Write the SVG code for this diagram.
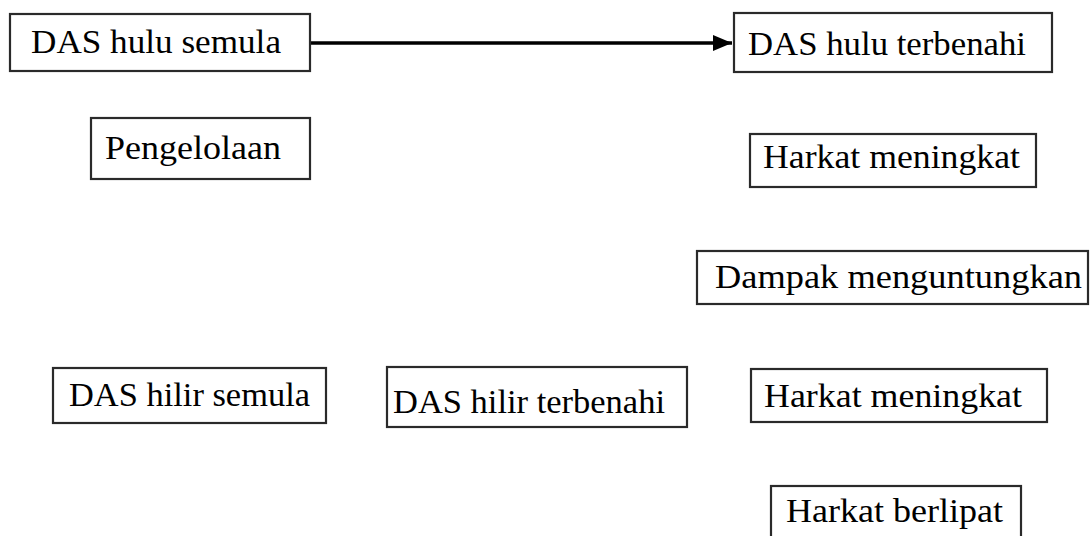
<svg xmlns="http://www.w3.org/2000/svg" width="1090" height="536" viewBox="0 0 1090 536">
<style>
.box{fill:#fff;stroke:#2a2a2a;stroke-width:2.2}
.lbl{font-family:"Palatino Linotype","Book Antiqua","Liberation Serif",serif;font-size:34px;fill:#000}
.conn{stroke:#000;stroke-width:3.5;fill:none}
</style>
<defs>
<marker id="ah" markerUnits="userSpaceOnUse" markerWidth="20" markerHeight="16" refX="19" refY="8" orient="auto">
<path d="M0,0 L19,8 L0,16 Z" fill="#000"/>
</marker>
</defs>
<rect width="1090" height="536" fill="#fff"/>
<g id="connectors">
<line class="conn" x1="310" y1="43" x2="732" y2="43" marker-end="url(#ah)"/>
</g>
<g id="das-hulu-semula">
<rect class="box" x="10" y="14" width="300" height="57"/>
<text class="lbl" x="31" y="53" textLength="250" lengthAdjust="spacingAndGlyphs">DAS hulu semula</text>
</g>
<g id="pengelolaan">
<rect class="box" x="91" y="118" width="219" height="61"/>
<text class="lbl" x="105" y="159" textLength="176" lengthAdjust="spacingAndGlyphs">Pengelolaan</text>
</g>
<g id="das-hulu-terbenahi">
<rect class="box" x="734" y="13" width="318" height="59"/>
<text class="lbl" x="748" y="55" textLength="278" lengthAdjust="spacingAndGlyphs">DAS hulu terbenahi</text>
</g>
<g id="harkat-meningkat-1">
<rect class="box" x="750" y="134" width="286" height="53"/>
<text class="lbl" x="763" y="168" textLength="257" lengthAdjust="spacingAndGlyphs">Harkat meningkat</text>
</g>
<g id="dampak-menguntungkan">
<rect class="box" x="697" y="251" width="391" height="53"/>
<text class="lbl" x="715" y="288" textLength="367" lengthAdjust="spacingAndGlyphs">Dampak menguntungkan</text>
</g>
<g id="das-hilir-semula">
<rect class="box" x="53" y="368" width="273" height="55"/>
<text class="lbl" x="69" y="406" textLength="241" lengthAdjust="spacingAndGlyphs">DAS hilir semula</text>
</g>
<g id="das-hilir-terbenahi">
<rect class="box" x="387" y="367" width="300" height="60"/>
<text class="lbl" x="393" y="413" textLength="272" lengthAdjust="spacingAndGlyphs">DAS hilir terbenahi</text>
</g>
<g id="harkat-meningkat-2">
<rect class="box" x="751" y="369" width="296" height="53"/>
<text class="lbl" x="764" y="407" textLength="258" lengthAdjust="spacingAndGlyphs">Harkat meningkat</text>
</g>
<g id="harkat-berlipat">
<rect class="box" x="771" y="486" width="250" height="60"/>
<text class="lbl" x="786" y="522" textLength="217" lengthAdjust="spacingAndGlyphs">Harkat berlipat</text>
</g>
</svg>
